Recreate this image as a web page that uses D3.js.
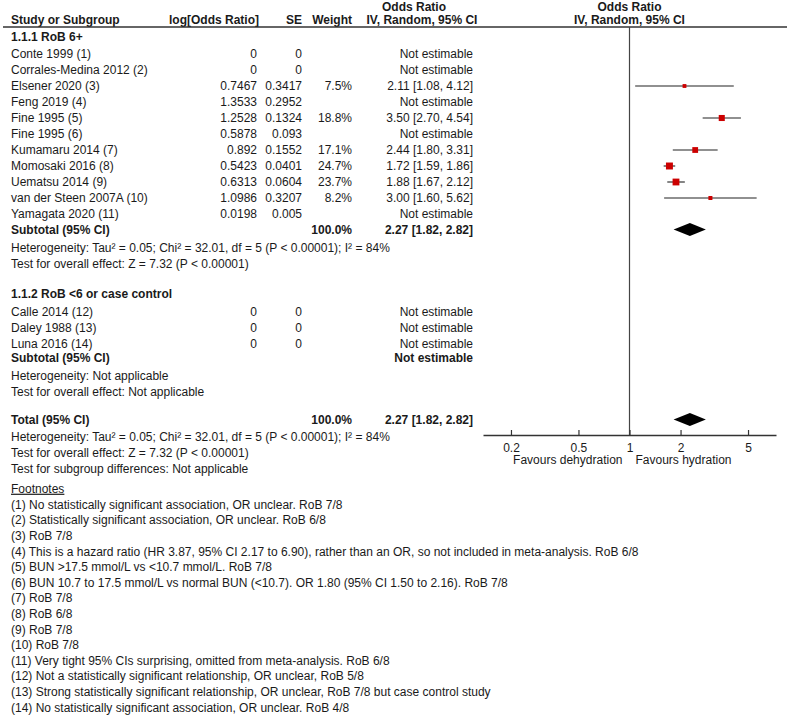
<!DOCTYPE html>
<html>
<head>
<meta charset="utf-8">
<script src="https://cdn.jsdelivr.net/npm/d3@7"></script>
<style>
  body { margin: 0; background: #fff; }
  svg { display: block; font-family: "Liberation Sans", Arial, sans-serif; }
  text { fill: #1a1a1a; font-size: 12px; }
  .b { font-weight: bold; }
</style>
</head>
<body>
<svg id="chart" width="787" height="717"></svg>
<script>
// ---------------- DATA ----------------
const group1Title = "1.1.1 RoB 6+";
const group1Names = ["Conte 1999 (1)", "Corrales-Medina 2012 (2)", "Elsener 2020 (3)", "Feng 2019 (4)",
  "Fine 1995 (5)", "Fine 1995 (6)", "Kumamaru 2014 (7)", "Momosaki 2016 (8)", "Uematsu 2014 (9)",
  "van der Steen 2007A (10)", "Yamagata 2020 (11)"];
const group1LogOR = [0, 0, 0.7467, 1.3533, 1.2528, 0.5878, 0.892, 0.5423, 0.6313, 1.0986, 0.0198];
const group1SE = [0, 0, 0.3417, 0.2952, 0.1324, 0.093, 0.1552, 0.0401, 0.0604, 0.3207, 0.005];
const group1Weight = [null, null, 7.5, null, 18.8, null, 17.1, 24.7, 23.7, 8.2, null];
const group1OR = [null, null, 2.11, null, 3.50, null, 2.44, 1.72, 1.88, 3.00, null];
const group1Lo = [null, null, 1.08, null, 2.70, null, 1.80, 1.59, 1.67, 1.60, null];
const group1Hi = [null, null, 4.12, null, 4.54, null, 3.31, 1.86, 2.12, 5.62, null];
const subtotal1 = { weight: 100.0, or: 2.27, lo: 1.82, hi: 2.82 };
const group1Het = "Heterogeneity: Tau² = 0.05; Chi² = 32.01, df = 5 (P < 0.00001); I² = 84%";
const group1Test = "Test for overall effect: Z = 7.32 (P < 0.00001)";

const group2Title = "1.1.2 RoB <6 or case control";
const group2Names = ["Calle 2014 (12)", "Daley 1988 (13)", "Luna 2016 (14)"];
const group2LogOR = [0, 0, 0];
const group2SE = [0, 0, 0];
const group2Het = "Heterogeneity: Not applicable";
const group2Test = "Test for overall effect: Not applicable";

const total = { weight: 100.0, or: 2.27, lo: 1.82, hi: 2.82 };
const totalHet = "Heterogeneity: Tau² = 0.05; Chi² = 32.01, df = 5 (P < 0.00001); I² = 84%";
const totalTest = "Test for overall effect: Z = 7.32 (P < 0.00001)";
const subgroupTest = "Test for subgroup differences: Not applicable";

const axisTicks = [0.2, 0.5, 1, 2, 5];
const favoursLeft = "Favours dehydration";
const favoursRight = "Favours hydration";

const footnotes = [
  "(1) No statistically significant association, OR unclear. RoB 7/8",
  "(2) Statistically significant association, OR unclear. RoB 6/8",
  "(3) RoB 7/8",
  "(4) This is a hazard ratio (HR 3.87, 95% CI 2.17 to 6.90), rather than an OR, so not included in meta-analysis. RoB 6/8",
  "(5) BUN >17.5 mmol/L vs <10.7 mmol/L. RoB 7/8",
  "(6) BUN 10.7 to 17.5 mmol/L vs normal BUN (<10.7). OR 1.80 (95% CI 1.50 to 2.16). RoB 7/8",
  "(7) RoB 7/8",
  "(8) RoB 6/8",
  "(9) RoB 7/8",
  "(10) RoB 7/8",
  "(11) Very tight 95% CIs surprising, omitted from meta-analysis. RoB 6/8",
  "(12) Not a statistically significant relationship, OR unclear, RoB 5/8",
  "(13) Strong statistically significant relationship, OR unclear, RoB 7/8 but case control study",
  "(14) No statistically significant association, OR unclear. RoB 4/8"
];

// ---------------- LAYOUT ----------------
const svg = d3.select("#chart");
const col = { name: 11, logor: 257, se: 302, weight: 352, ortext: 473 };
const fmt2 = d3.format(".2f");
const fmtW = d => d3.format(".1f")(d) + "%";
const orLabel = (o, l, h) => `${fmt2(o)} [${fmt2(l)}, ${fmt2(h)}]`;

const rows = [];
function add(gap, row) { row.gap = gap; rows.push(row); }
add(0, { type: "group", text: group1Title });
group1Names.forEach((n, i) => add(i === 0 ? 17 : 16, {
  type: "study", name: n, logor: group1LogOR[i], se: group1SE[i], w: group1Weight[i],
  or: group1OR[i], lo: group1Lo[i], hi: group1Hi[i]
}));
add(15.5, { type: "subtotal", label: "Subtotal (95% CI)", s: subtotal1 });
add(18, { type: "note", text: group1Het });
add(16, { type: "note", text: group1Test });
add(30, { type: "group", text: group2Title });
group2Names.forEach((n, i) => add(i === 0 ? 18 : 16, {
  type: "study", name: n, logor: group2LogOR[i], se: group2SE[i], w: null, or: null
}));
add(14, { type: "subtotal", label: "Subtotal (95% CI)", s: null });
add(18, { type: "note", text: group2Het });
add(16, { type: "note", text: group2Test });
add(28, { type: "subtotal", label: "Total (95% CI)", s: total });
add(17, { type: "note", text: totalHet });
add(16, { type: "note", text: totalTest });
add(16, { type: "note", text: subgroupTest });
add(20, { type: "fnhead", text: "Footnotes" });
footnotes.forEach((f, i) => add(i === 0 ? 16 : 15.6, { type: "note", text: f }));

let yy = 37;
rows.forEach(r => { yy += r.gap; r.y = yy; });

const x = d3.scaleLog().domain([1 / 7.31, 7.31]).range([483, 776]);
const ruleY = 27, axisY = 435;

// header
const hdr = svg.append("g");
const H = (xx, yv, txt, anchor) => hdr.append("text").attr("class", "b").attr("x", xx).attr("y", yv)
  .attr("dy", "0.35em").attr("text-anchor", anchor).text(txt);
H(col.name, 20, "Study or Subgroup", "start");
H(259, 20, "log[Odds Ratio]", "end");
H(col.se, 20, "SE", "end");
H(col.weight, 20, "Weight", "end");
H(414, 6.5, "Odds Ratio", "middle");
H(422, 20, "IV, Random, 95% CI", "middle");
H(x(1), 6.5, "Odds Ratio", "middle");
H(x(1), 20, "IV, Random, 95% CI", "middle");
svg.append("line").attr("x1", 3).attr("x2", 787).attr("y1", ruleY).attr("y2", ruleY)
  .attr("stroke", "#333").attr("stroke-width", 1.3);

// null line
svg.append("line").attr("x1", x(1)).attr("x2", x(1)).attr("y1", ruleY).attr("y2", axisY)
  .attr("stroke", "#444").attr("stroke-width", 1.2);

const g = svg.append("g");
rows.forEach(r => {
  const t = (xx, txt, anchor, bold) => g.append("text").attr("x", xx).attr("y", r.y).attr("dy", "0.35em")
    .attr("text-anchor", anchor || "start").attr("class", bold ? "b" : null).text(txt);
  if (r.type === "group") t(col.name, r.text, "start", true);
  else if (r.type === "note") t(col.name, r.text);
  else if (r.type === "fnhead") {
    t(col.name, r.text).attr("text-decoration", "underline");
  } else if (r.type === "study") {
    t(col.name, r.name);
    t(col.logor, String(r.logor), "end");
    t(col.se, String(r.se), "end");
    if (r.w != null) t(col.weight, fmtW(r.w), "end");
    if (r.or != null) {
      t(col.ortext, orLabel(r.or, r.lo, r.hi), "end");
      g.append("line").attr("x1", x(r.lo)).attr("x2", x(r.hi)).attr("y1", r.y).attr("y2", r.y)
        .attr("stroke", "#222").attr("stroke-width", 1.1);
      const s = Math.sqrt(r.w) * 1.4;
      g.append("rect").attr("x", x(r.or) - s / 2).attr("y", r.y - s / 2).attr("width", s).attr("height", s)
        .attr("fill", "#cc0000");
    } else {
      t(col.ortext, "Not estimable", "end");
    }
  } else if (r.type === "subtotal") {
    t(col.name, r.label, "start", true);
    if (r.s) {
      t(col.weight, fmtW(r.s.weight), "end", true);
      t(col.ortext, orLabel(r.s.or, r.s.lo, r.s.hi), "end", true);
      const h = 6.5;
      g.append("path").attr("d", `M${x(r.s.lo)},${r.y} L${x(r.s.or)},${r.y - h} L${x(r.s.hi)},${r.y} L${x(r.s.or)},${r.y + h} Z`)
        .attr("fill", "#000");
    } else {
      t(col.ortext, "Not estimable", "end", true);
    }
  }
});

// axis
const axis = d3.axisBottom(x).tickValues(axisTicks).tickFormat(d => String(d))
  .tickSizeInner(-5).tickSizeOuter(0).tickPadding(8);
const ax = svg.append("g").attr("transform", `translate(0,${axisY})`).call(axis);
ax.select(".domain").attr("stroke", "#333").attr("stroke-width", 1.3);
ax.selectAll(".tick line").attr("stroke", "#333").attr("stroke-width", 1.2);
ax.selectAll(".tick text").attr("font-size", "12px").attr("font-family", "Liberation Sans, Arial, sans-serif").attr("fill", "#1a1a1a");
svg.append("text").attr("x", x(1) - 7).attr("y", 460).attr("dy", "0.35em").attr("text-anchor", "end").text(favoursLeft);
svg.append("text").attr("x", x(1) + 6).attr("y", 460).attr("dy", "0.35em").attr("text-anchor", "start").text(favoursRight);
</script>
</body>
</html>
